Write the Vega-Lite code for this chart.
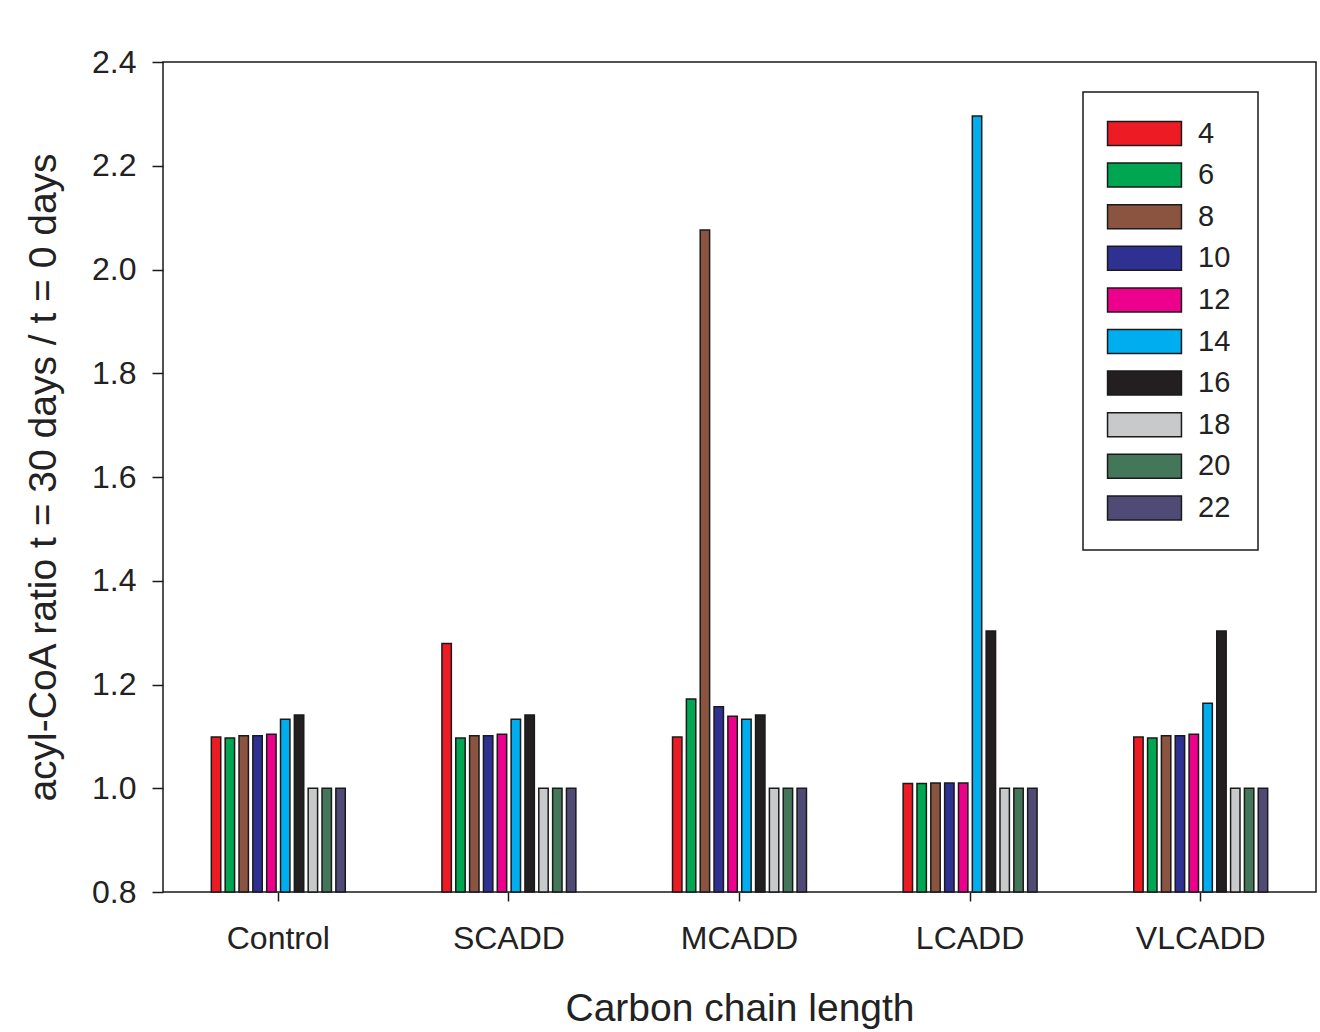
{
  "$schema": "https://vega.github.io/schema/vega-lite/v6.json",
  "width": 1153,
  "height": 830,
  "autosize": "none",
  "padding": {"left": 163, "top": 62, "right": 4, "bottom": 140},
  "background": "#ffffff",
  "data": {
    "values": [
      {"group": "Control", "chain": "4", "ratio": 1.099},
      {"group": "Control", "chain": "6", "ratio": 1.097},
      {"group": "Control", "chain": "8", "ratio": 1.101},
      {"group": "Control", "chain": "10", "ratio": 1.101},
      {"group": "Control", "chain": "12", "ratio": 1.104},
      {"group": "Control", "chain": "14", "ratio": 1.133},
      {"group": "Control", "chain": "16", "ratio": 1.141},
      {"group": "Control", "chain": "18", "ratio": 1.0},
      {"group": "Control", "chain": "20", "ratio": 1.0},
      {"group": "Control", "chain": "22", "ratio": 1.0},
      {"group": "SCADD", "chain": "4", "ratio": 1.279},
      {"group": "SCADD", "chain": "6", "ratio": 1.097},
      {"group": "SCADD", "chain": "8", "ratio": 1.101},
      {"group": "SCADD", "chain": "10", "ratio": 1.101},
      {"group": "SCADD", "chain": "12", "ratio": 1.104},
      {"group": "SCADD", "chain": "14", "ratio": 1.133},
      {"group": "SCADD", "chain": "16", "ratio": 1.141},
      {"group": "SCADD", "chain": "18", "ratio": 1.0},
      {"group": "SCADD", "chain": "20", "ratio": 1.0},
      {"group": "SCADD", "chain": "22", "ratio": 1.0},
      {"group": "MCADD", "chain": "4", "ratio": 1.099},
      {"group": "MCADD", "chain": "6", "ratio": 1.172},
      {"group": "MCADD", "chain": "8", "ratio": 2.076},
      {"group": "MCADD", "chain": "10", "ratio": 1.157},
      {"group": "MCADD", "chain": "12", "ratio": 1.139},
      {"group": "MCADD", "chain": "14", "ratio": 1.133},
      {"group": "MCADD", "chain": "16", "ratio": 1.141},
      {"group": "MCADD", "chain": "18", "ratio": 1.0},
      {"group": "MCADD", "chain": "20", "ratio": 1.0},
      {"group": "MCADD", "chain": "22", "ratio": 1.0},
      {"group": "LCADD", "chain": "4", "ratio": 1.009},
      {"group": "LCADD", "chain": "6", "ratio": 1.009},
      {"group": "LCADD", "chain": "8", "ratio": 1.01},
      {"group": "LCADD", "chain": "10", "ratio": 1.01},
      {"group": "LCADD", "chain": "12", "ratio": 1.01},
      {"group": "LCADD", "chain": "14", "ratio": 2.296},
      {"group": "LCADD", "chain": "16", "ratio": 1.303},
      {"group": "LCADD", "chain": "18", "ratio": 1.0},
      {"group": "LCADD", "chain": "20", "ratio": 1.0},
      {"group": "LCADD", "chain": "22", "ratio": 1.0},
      {"group": "VLCADD", "chain": "4", "ratio": 1.099},
      {"group": "VLCADD", "chain": "6", "ratio": 1.097},
      {"group": "VLCADD", "chain": "8", "ratio": 1.101},
      {"group": "VLCADD", "chain": "10", "ratio": 1.101},
      {"group": "VLCADD", "chain": "12", "ratio": 1.104},
      {"group": "VLCADD", "chain": "14", "ratio": 1.164},
      {"group": "VLCADD", "chain": "16", "ratio": 1.303},
      {"group": "VLCADD", "chain": "18", "ratio": 1.0},
      {"group": "VLCADD", "chain": "20", "ratio": 1.0},
      {"group": "VLCADD", "chain": "22", "ratio": 1.0}
    ]
  },
  "mark": {"type": "bar", "stroke": "#1a1a1a", "strokeWidth": 1.5},
  "encoding": {
    "x": {
      "field": "group",
      "type": "nominal",
      "sort": ["Control", "SCADD", "MCADD", "LCADD", "VLCADD"],
      "scale": {"paddingInner": 0.4, "paddingOuter": 0.2},
      "axis": {
        "title": "Carbon chain length",
        "labelAngle": 0,
        "labelFontSize": 32,
        "titleFontSize": 39,
        "tickSize": 9,
        "labelPadding": 22,
        "titlePadding": 35,
        "domain": false
      }
    },
    "xOffset": {
      "field": "chain",
      "type": "nominal",
      "sort": ["4", "6", "8", "10", "12", "14", "16", "18", "20", "22"],
      "scale": {"paddingInner": 0.32, "paddingOuter": 0.16}
    },
    "y": {
      "field": "ratio",
      "type": "quantitative",
      "scale": {"domain": [0.8, 2.4], "zero": false, "nice": false},
      "axis": {
        "title": "acyl-CoA ratio t = 30 days / t = 0 days",
        "values": [0.8, 1.0, 1.2, 1.4, 1.6, 1.8, 2.0, 2.2, 2.4],
        "format": ".1f",
        "labelFontSize": 32,
        "titleFontSize": 39,
        "tickSize": 11,
        "labelPadding": 16,
        "titlePadding": 28,
        "domain": false,
        "grid": false
      }
    },
    "y2": {"datum": 0.8},
    "color": {
      "field": "chain",
      "type": "nominal",
      "sort": ["4", "6", "8", "10", "12", "14", "16", "18", "20", "22"],
      "scale": {
        "domain": ["4", "6", "8", "10", "12", "14", "16", "18", "20", "22"],
        "range": ["#ed1c24", "#00a651", "#8b5440", "#2e3192", "#ec008c", "#00aeef", "#231f20", "#c8c9cb", "#44775a", "#4f4b76"]
      },
      "legend": {
        "title": null,
        "orient": "none",
        "legendX": 920,
        "legendY": 30,
        "direction": "vertical",
        "strokeColor": "#1a1a1a",
        "padding": 27,
        "symbolType": "M-3.08,-1H3.08V1H-3.08Z",
        "symbolSize": 576,
        "symbolStrokeColor": "#1a1a1a",
        "symbolStrokeWidth": 1.5,
        "symbolOpacity": 1,
        "symbolOffset": 20,
        "labelOffset": 39,
        "labelFontSize": 29,
        "rowPadding": 10.6
      }
    }
  },
  "config": {
    "font": "Liberation Sans",
    "view": {"stroke": "#1a1a1a", "strokeWidth": 1.5},
    "axis": {
      "labelColor": "#222222",
      "titleColor": "#222222",
      "tickColor": "#1a1a1a",
      "tickWidth": 1.5,
      "labelFont": "Liberation Sans",
      "titleFont": "Liberation Sans",
      "titleFontWeight": "normal"
    },
    "legend": {"labelFont": "Liberation Sans", "labelColor": "#222222", "strokeWidth": 1.5}
  }
}
